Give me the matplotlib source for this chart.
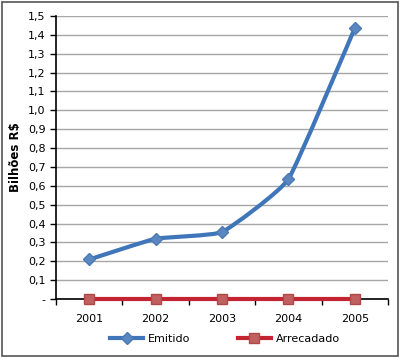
import matplotlib.pyplot as plt
from matplotlib.patches import Rectangle, PathPatch
from matplotlib.path import Path
from matplotlib.lines import Line2D

# dados
anos = ['2001', '2002', '2003', '2004', '2005']
emitido = [0.21, 0.32, 0.355, 0.635, 1.435]
arrecadado = [0.002, 0.002, 0.002, 0.002, 0.002]
yticks = [0.0, 0.1, 0.2, 0.3, 0.4, 0.5, 0.6, 0.7, 0.8, 0.9, 1.0, 1.1, 1.2, 1.3, 1.4, 1.5]
ylabels = ['-'] + [f'{v:.1f}'.replace('.', ',') for v in yticks[1:]]


def linha_suave(xs, ys, t=0.06):
    # curva levemente suavizada (Catmull-Rom -> Bezier)
    pts = list(zip(xs, ys))
    verts = [pts[0]]
    codes = [Path.MOVETO]
    n = len(pts)
    for i in range(n - 1):
        p0 = pts[max(i - 1, 0)]
        p1 = pts[i]
        p2 = pts[i + 1]
        p3 = pts[min(i + 2, n - 1)]
        c1 = (p1[0] + (p2[0] - p0[0]) * t, p1[1] + (p2[1] - p0[1]) * t)
        c2 = (p2[0] - (p3[0] - p1[0]) * t, p2[1] - (p3[1] - p1[1]) * t)
        verts += [c1, c2, p2]
        codes += [Path.CURVE4] * 3
    return Path(verts, codes)


fig = plt.figure(figsize=(4, 3.6), dpi=100)
ax = fig.add_axes([0.14, 0.169, 0.83, 0.787])

azul = '#3f76b9'
vermelho = '#c42432'
x = list(range(len(anos)))

ax.add_patch(PathPatch(linha_suave(x, emitido), fill=False, edgecolor=azul,
                       lw=3, capstyle='round', joinstyle='round', zorder=3))
ax.plot(x, arrecadado, color=vermelho, lw=3, zorder=3, clip_on=False)
ax.plot(x, emitido, ls='none', marker='D', ms=6.5, mfc='#5b87c0', mec='#4a7ab5', zorder=4)
ax.plot(x, arrecadado, ls='none', marker='s', ms=6.5, mfc='#c06060', mec='#b04848',
        zorder=4, clip_on=False)

ax.set_xlim(-0.5, 4.5)
ax.set_ylim(0, 1.5)
ax.set_yticks(yticks)
ax.set_yticklabels(ylabels)
ax.set_xticks(x)
ax.set_xticklabels(anos)
ax.set_xticks([i + 0.5 for i in range(-1, 5)], minor=True)
ax.tick_params(axis='x', which='major', length=0, labelsize=8, pad=11)
ax.tick_params(axis='x', which='minor', length=4, direction='out', width=1)
ax.tick_params(axis='y', labelsize=8, length=4, direction='out', width=1)

# grade
ax.grid(axis='y', color='#a6a6a6', lw=1)
ax.set_axisbelow(True)
for s in ['top', 'right']:
    ax.spines[s].set_visible(False)
ax.spines['left'].set_linewidth(1.2)
ax.spines['bottom'].set_linewidth(1.2)

ax.set_ylabel('Bilhões R$', fontsize=8.5, fontweight='bold', labelpad=4)

handles = [
    Line2D([], [], color=azul, lw=3, marker='D', ms=6.5, mfc='#5b87c0', mec='#4a7ab5'),
    Line2D([], [], color=vermelho, lw=3, marker='s', ms=6.5, mfc='#c06060', mec='#b04848'),
]
fig.legend(handles, ['Emitido', 'Arrecadado'], loc='center', bbox_to_anchor=(0.562, 0.058),
           ncol=2, frameon=False, fontsize=8, handlelength=3, handletextpad=0.4,
           columnspacing=4.3)

# moldura
fig.patches.append(Rectangle((0.005, 0.01), 0.99, 0.985, transform=fig.transFigure,
                             fill=False, edgecolor='#555555', lw=1.2))

plt.savefig('out.png')
plt.close()
